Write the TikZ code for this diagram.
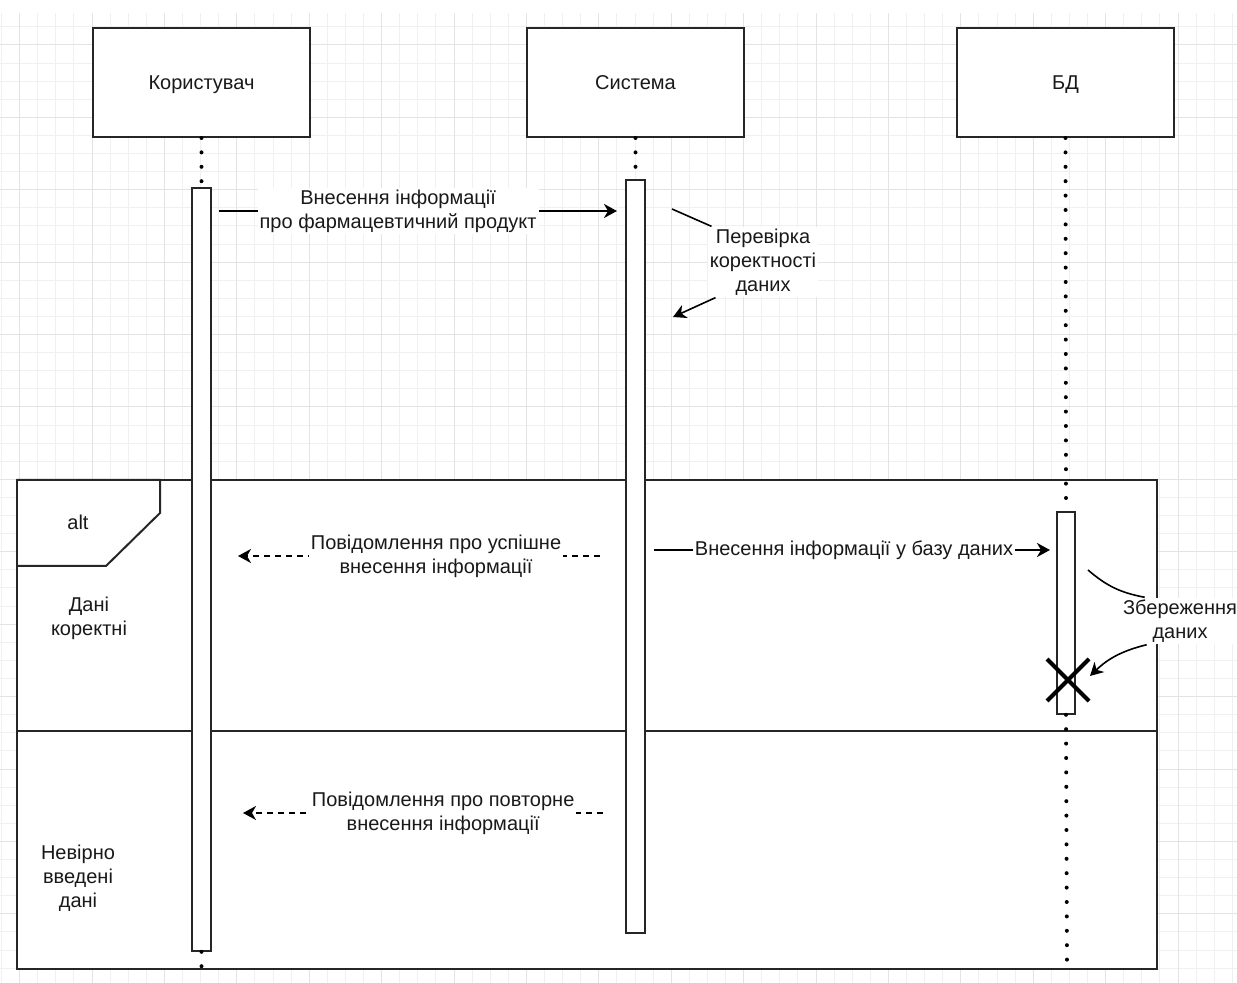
\documentclass[tikz,border=0pt]{standalone}
\usepackage{fontspec}
\setmainfont{Liberation Sans}
\usetikzlibrary{arrows.meta,shapes.misc}
\begin{document}
\begin{tikzpicture}[x=0.5pt,y=-0.5pt,
  every node/.style={font=\fontsize{10pt}{12pt}\selectfont, text=black!90},
  minorgrid/.style={draw=black!6, line width=0.5pt},
  majorgrid/.style={draw=black!11, line width=0.5pt},
  actorbox/.style={draw=black!85, line width=1pt, fill=white, minimum width=108.5pt, minimum height=54.5pt, inner sep=0pt, text height=9.3pt, text depth=2.1pt},
  actbar/.style={draw=black!85, line width=0.8pt, fill=white, minimum width=9.5pt, inner sep=0pt},
  lifeline/.style={line width=2pt, line cap=round, dash pattern=on 0pt off 7.2pt},
  msg/.style={line width=1pt, -{Stealth[length=6.5pt,width=7pt,inset=2pt]}},
  reply/.style={msg, dash pattern=on 3pt off 2.5pt},
  lbl/.style={fill=white, inner sep=1pt, align=center},
  note/.style={line width=0.8pt},
  plain/.style={align=center, inner sep=1pt},
  framepen/.style={draw=black!85, line width=1pt},
]
\useasboundingbox (0,0) rectangle (1237,983);

% background grid
\foreach \k in {-5,...,63}
  \draw[minorgrid] ({92+18.1*\k},13) -- ({92+18.1*\k},983);
\foreach \k in {-1,...,51}
  \draw[minorgrid] (0,{45+18.1*\k}) -- (1237,{45+18.1*\k});
\foreach \k in {-1,...,15}
  \draw[majorgrid] ({92+72.4*\k},13) -- ({92+72.4*\k},983);
\foreach \k in {0,...,12}
  \draw[majorgrid] (0,{45+72.4*\k}) -- (1237,{45+72.4*\k});

% alt combined fragment
\node[framepen, fill=white, minimum width=570pt, minimum height=244.5pt, inner sep=0pt, outer sep=0pt] (frame) at (587,724.5) {};
\draw[framepen, line join=miter] (17,480) -- (160,480) -- (160,513) -- (106,566) -- (17,566);
\draw[framepen] (17,731) -- (1157,731);
\node[plain] (alt) at (78,522) {alt};
\node[plain] (okcase) at (89,618) {Дані\\коректні};
\node[plain] (badcase) at (78,878) {Невірно\\введені\\дані};

% participants
\node[actorbox] (user) at (201.5,82.5) {Користувач};
\node[actorbox] (sys) at (635.5,82.5) {Система};
\node[actorbox] (db) at (1065.5,82.5) {БД};

% activation bars
\node[actbar, minimum height=381.5pt] (useract) at (201.5,569.5) {};
\node[actbar, minimum height=376.5pt] (sysact) at (635.5,556.5) {};
\node[actbar, minimum width=9pt, minimum height=101pt] (dbact) at (1066,613) {};

% lifelines
\coordinate (userend) at (201.5,968);
\coordinate (dbend) at (1067,968);
\draw[lifeline] (user.south) -- (useract.north);
\draw[lifeline] (useract.south) -- (userend);
\draw[lifeline] (sys.south) -- (sysact.north);
\draw[lifeline] (db.south) -- (dbact.north);
\draw[lifeline] (dbact.south) -- (dbend);

% messages
\coordinate (m1a) at (219,211);
\coordinate (m1b) at (617,211);
\draw[msg] (m1a) -- node[lbl, pos=0.45] (m1) {Внесення інформації\\про фармацевтичний продукт} (m1b);

\node[lbl] (chk) at (763,262) {Перевірка\\коректності\\даних};
\coordinate (c1) at (672,209);
\coordinate (c2) at (673,317);
\draw[note] (c1) -- ([xshift=2pt]chk.north west);
\draw[msg, line width=0.8pt] ([xshift=4pt]chk.south west) -- (c2);

\coordinate (r1a) at (600,556);
\coordinate (r1b) at (238,556);
\draw[reply] (r1a) -- node[lbl, pos=0.453] (r1) {Повідомлення про успішне\\внесення інформації} (r1b);

\coordinate (m2a) at (654,550);
\coordinate (m2b) at (1050,550);
\draw[msg] (m2a) -- node[lbl, pos=0.505] (m2) {Внесення інформації у базу даних} (m2b);

\node[lbl] (save) at (1180,621) {Збереження\\даних};
\coordinate (c3) at (1088,570);
\coordinate (c4) at (1090,676);
\draw[note] (c3) to[bend right=15] ([xshift=12pt]save.north west);
\draw[msg, line width=0.8pt] ([xshift=13pt]save.south west) to[bend right=15] (c4);

\node[cross out, draw=black, line width=2pt, minimum size=19pt, inner sep=0pt] (destroy) at (1068,680) {};

\coordinate (r2a) at (603,813);
\coordinate (r2b) at (243,813);
\draw[reply] (r2a) -- node[lbl, pos=0.444] (r2) {Повідомлення про повторне\\внесення інформації} (r2b);
\end{tikzpicture}
\end{document}
